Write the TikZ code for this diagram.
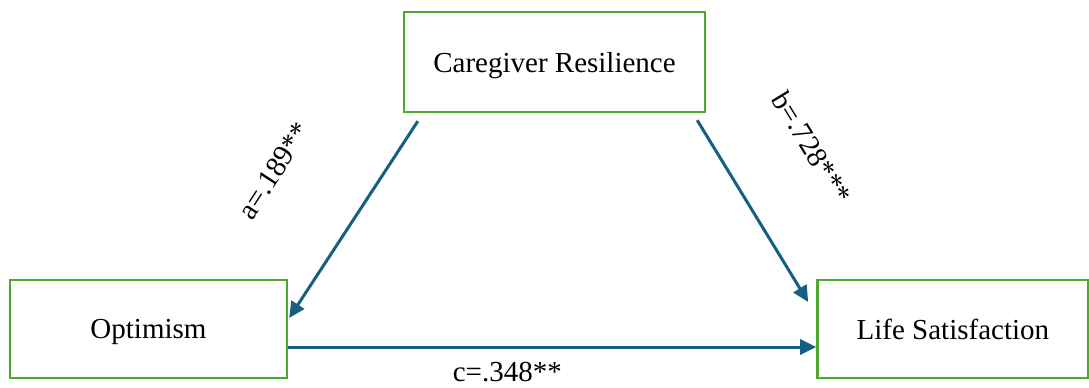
\documentclass[tikz,border=0pt]{standalone}
\usepackage{fontspec}
\setmainfont{Liberation Serif}
\usetikzlibrary{arrows.meta,positioning,calc}
\definecolor{boxgreen}{RGB}{78,167,46}
\definecolor{pathblue}{RGB}{21,96,130}

\begin{document}
\begin{tikzpicture}[
  x=0.5pt, y=0.5pt,
  node distance=264pt,
  box/.style={draw=boxgreen, line width=1.2pt, align=center, inner sep=2pt,
              minimum height=49pt, text depth=0pt, font=\fontsize{14.5}{17}\selectfont},
  effect/.style={-{Triangle[length=8pt, width=7.5pt]}, line width=1.5pt, draw=pathblue},
  coef/.style={font=\fontsize{14.5}{17}\selectfont, inner sep=0pt},
]
\useasboundingbox (0,0) rectangle (1089,387);

%% ---- variables -------------------------------------------------------------
\node[box, minimum width=150.5pt, minimum height=50pt] (care) at (554.5,325) {Caregiver Resilience};
\node[box, minimum width=138.5pt] (opt) at (148.5,58) {Optimism};
\node[box, minimum width=135.5pt, right=of opt] (life) {Life Satisfaction};

%% ---- path ends -------------------------------------------------------------
\coordinate (aFrom) at ($(care.south west)+(15,-8)$);
\coordinate (aTo)   at ($(opt.east)+(1,11)$);
\coordinate (bFrom) at ($(care.south east)+(-9,-7)$);
\coordinate (bTo)   at ($(life.west)+(-8,27)$);
\coordinate (cFrom) at ($(opt.east)+(0,-18)$);
\coordinate (cTo)   at ($(life.west)+(0,-18)$);

%% ---- effects ---------------------------------------------------------------
\draw[effect] (aFrom) -- (aTo)
  node[coef, sloped, pos=0.51, above=41pt] (aLab) {a=.189**};
\draw[effect] (bFrom) -- (bTo)
  node[coef, sloped, pos=0.39, above=36pt] (bLab) {b=.728***};
\draw[effect] (cFrom) -- (cTo)
  node[coef, pos=0.415, below=7pt] (cLab) {c=.348**};

\end{tikzpicture}
\end{document}
